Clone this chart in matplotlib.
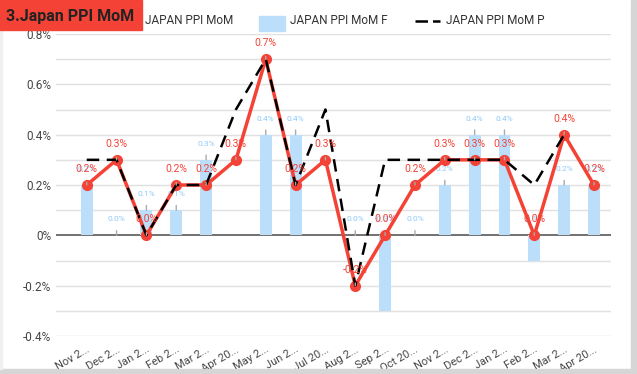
import numpy as np
import matplotlib.pyplot as plt
from matplotlib.patches import Rectangle
from matplotlib.lines import Line2D

plt.rcParams["font.family"] = ["Roboto", "DejaVu Sans"]

# =========================
# DATA
# =========================
categories = ["Nov 2...", "Dec 2...", "Jan 2...", "Feb 2...", "Mar 2...", "Apr 20...",
              "May 2...", "Jun 2...", "Jul 20...", "Aug 2...", "Sep 2...", "Oct 20...",
              "Nov 2...", "Dec 2...", "Jan 2...", "Feb 2...", "Mar 2...", "Apr 20..."]
actual = [0.2, 0.3, 0.0, 0.2, 0.2, 0.3, 0.7, 0.2, 0.3, -0.2, 0.0, 0.2,
          0.3, 0.3, 0.3, 0.0, 0.4, 0.2]
forecast = [0.2, 0.0, 0.1, 0.1, 0.3, np.nan, 0.4, 0.4, np.nan, 0.0, -0.3, 0.0,
            0.2, 0.4, 0.4, -0.1, 0.2, 0.2]
previous = [0.3, 0.3, 0.0, 0.2, 0.2, 0.5, 0.7, 0.2, 0.5, -0.2, 0.3, 0.3,
            0.3, 0.3, 0.3, 0.2, 0.4, np.nan]

RED = "#F44336"
BAR = "#BBDEFB"
BAR_TXT = "#90CAF9"

W, H = 637, 374
fig = plt.figure(figsize=(W / 100, H / 100), dpi=100)
fig.patch.set_facecolor("white")

# card border / shadow
fig.patches.append(Rectangle((631 / W, 0), 6 / W, 1, transform=fig.transFigure,
                             color="#d6d6d6", zorder=0))
fig.patches.append(Rectangle((0, 0), 1, 5 / H, transform=fig.transFigure,
                             color="#d6d6d6", zorder=0))
fig.patches.append(Rectangle((0, 5 / H), 2 / W, 1, transform=fig.transFigure,
                             color="#f0f0f0", zorder=0))

# =========================
# AXES
# =========================
ax = fig.add_axes([56 / W, (H - 336) / H, (611 - 56) / W, (336 - 34) / H])
x = np.arange(len(categories))

for gy in np.round(np.arange(-0.4, 0.81, 0.1), 1):
    if gy == 0:
        continue
    ax.axhline(gy, color="#e0e0e0", lw=1, zorder=0)
ax.axhline(0, color="#666666", lw=1.3, zorder=1)

ax.bar(x, forecast, width=0.4, color=BAR, zorder=2)
ax.plot(x, actual, color=RED, lw=2.5, marker="o", markersize=7, zorder=3)
ax.plot(x, previous, color="black", lw=1.8, dashes=(5, 3), zorder=4)

ax.set_xlim(-1.03, 17.57)
ax.set_ylim(-0.4, 0.8)
ax.set_yticks(np.round(np.arange(-0.4, 0.81, 0.2), 1))
ax.set_yticklabels(["-0.4%", "-0.2%", "0%", "0.2%", "0.4%", "0.6%", "0.8%"])
ax.set_xticks(x)
ax.set_xticklabels(categories, rotation=30, ha="right", rotation_mode="anchor")
ax.tick_params(axis="both", length=0, colors="#444444", labelsize=8.5)
ax.tick_params(axis="x", pad=6, labelsize=8)
for s in ax.spines.values():
    s.set_visible(False)

# data labels with leader lines
for i, v in enumerate(forecast):
    if np.isnan(v):
        continue
    ax.annotate(f"{v:.1f}%", xy=(i, max(v, 0)), xytext=(0, 16), textcoords="offset pixels",
                ha="center", va="center", fontsize=6, color=BAR_TXT, zorder=2,
                arrowprops=dict(arrowstyle="-", color="#aaaaaa", lw=1, shrinkA=4, shrinkB=0))
for i, v in enumerate(actual):
    ax.annotate(f"{v:.1f}%", xy=(i, v), xytext=(0, 16), textcoords="offset pixels",
                ha="center", va="center", fontsize=7.5, color=RED, zorder=6,
                arrowprops=dict(arrowstyle="-", color="#aaaaaa", lw=1, shrinkA=4, shrinkB=0))

# =========================
# TITLE BOX + LEGEND
# =========================
fig.patches.append(Rectangle((0, 1 - 30 / H), 142 / W, 30 / H, transform=fig.transFigure,
                             color=RED, zorder=5))
fig.text(6 / W, 1 - 16 / H, "3.Japan PPI MoM", fontsize=11.5, fontweight="bold",
         color="#222222", va="center", ha="left", zorder=6)

ly = 1 - 21 / H
fig.text(145 / W, ly, "JAPAN PPI MoM", fontsize=8.5, color="#333333", va="center")
fig.patches.append(Rectangle((259 / W, 1 - 31 / H), 26 / W, 15 / H, transform=fig.transFigure,
                             color=BAR, zorder=5))
fig.text(290 / W, ly, "JAPAN PPI MoM F", fontsize=8.5, color="#333333", va="center")
fig.lines.append(Line2D([415 / W, 440 / W], [ly, ly], transform=fig.transFigure,
                        color="black", lw=1.8, dashes=(5, 2, 5, 2, 1, 2)))
fig.text(446 / W, ly, "JAPAN PPI MoM P", fontsize=8.5, color="#333333", va="center")

plt.savefig("out.png", dpi=100)
plt.close()
